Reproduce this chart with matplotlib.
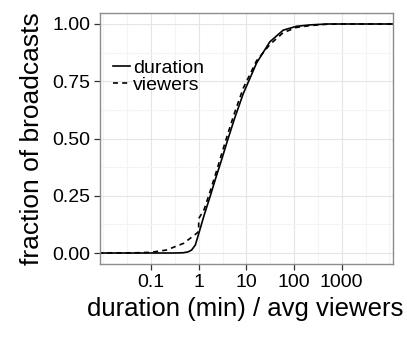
import numpy as np
import matplotlib
matplotlib.use("Agg")
import matplotlib.pyplot as plt
import matplotlib.ticker as mticker

plt.rcParams['font.family'] = ['Liberation Sans', 'DejaVu Sans']

dur_x = [0.005, 0.3, 0.47, 0.6, 0.71, 0.85, 0.98, 1.3, 1.73, 2.3, 3.0, 4.0, 5.6, 8.6,
         16.4, 31, 59, 113, 215, 500, 20000]
dur_y = [0.0, 0.0, 0.001, 0.005, 0.013, 0.035, 0.078, 0.165, 0.246, 0.33, 0.405, 0.49, 0.585, 0.696,
         0.83, 0.922, 0.973, 0.99, 0.996, 1.0, 1.0]

view_x = [0.005, 0.05, 0.1, 0.21, 0.48, 0.91, 0.999, 1.0, 1.3, 1.73, 2.3, 3.0, 4.0, 5.6, 8.6,
          16.4, 31, 59, 113, 215, 500, 1000, 20000]
view_y = [0.0, 0.001, 0.003, 0.013, 0.042, 0.086, 0.095, 0.15, 0.19, 0.268, 0.35, 0.43, 0.515, 0.61, 0.72,
          0.84, 0.91, 0.962, 0.985, 0.993, 0.999, 1.0, 1.0]

fig = plt.figure(figsize=(4.07, 3.39), dpi=100)
ax = fig.add_axes([100 / 407, 75 / 339, 293 / 407, 251 / 339])

ax.plot(dur_x, dur_y, color="black", lw=1.2, label="duration")
ax.plot(view_x, view_y, color="black", lw=1.2, ls=(0, (3, 2.5)), label="viewers")

ax.set_xscale("log")
ax.set_xlim(10 ** -2.07, 10 ** 4.075)
ax.set_ylim(-0.048, 1.048)

ax.xaxis.set_major_locator(mticker.FixedLocator([0.1, 1, 10, 100, 1000]))
ax.xaxis.set_major_formatter(mticker.FixedFormatter(["0.1", "1", "10", "100", "1000"]))
ax.xaxis.set_minor_locator(mticker.FixedLocator(10 ** np.array([-2.0, -1.5, -0.5, 0.5, 1.5, 2.5, 3.5, 4.0])))
ax.xaxis.set_minor_formatter(mticker.NullFormatter())
ax.yaxis.set_major_locator(mticker.FixedLocator([0, 0.25, 0.5, 0.75, 1.0]))
ax.yaxis.set_major_formatter(mticker.FormatStrFormatter("%.2f"))
ax.yaxis.set_minor_locator(mticker.FixedLocator([0.125, 0.375, 0.625, 0.875]))

ax.grid(which="major", color="#e5e5e5", lw=0.8)
ax.grid(which="minor", color="#f4f4f4", lw=0.8)
ax.set_axisbelow(True)
for s in ax.spines.values():
    s.set_color("#8c8c8c")
    s.set_linewidth(1.0)

ax.tick_params(which="major", length=4, width=0.9, color="#333333", labelsize=14, pad=3, labelcolor="black")
ax.tick_params(which="minor", length=0)

ax.set_xlabel("duration (min) / avg viewers", fontsize=18.5)
ax.xaxis.set_label_coords(0.495, -0.13)
ax.set_ylabel("fraction of broadcasts", fontsize=19, labelpad=6)

leg = ax.legend(loc="upper left", bbox_to_anchor=(0.03, 0.83), fontsize=14, frameon=False,
                handlelength=0.9, handletextpad=0.15, labelspacing=-0.05, borderpad=0.2,
                borderaxespad=0)

fig.savefig("out.png", dpi=100)
